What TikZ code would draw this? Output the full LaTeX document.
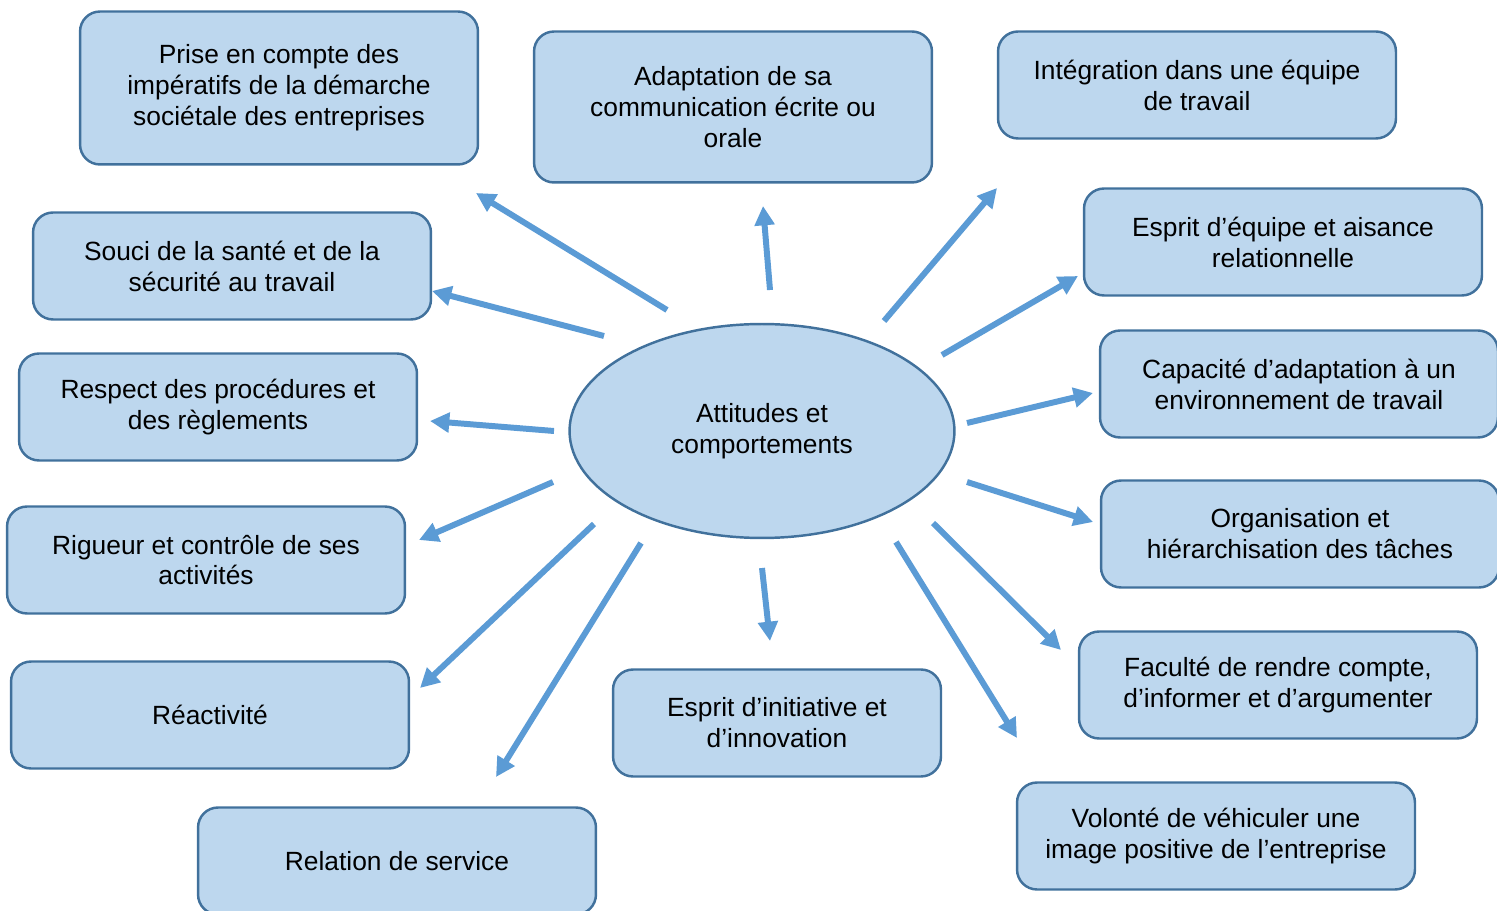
\documentclass[tikz,border=0pt]{standalone}
\usepackage{fontspec}
\setmainfont{Liberation Sans}
\usepackage{tikz}
\usetikzlibrary{shapes.geometric}
\usetikzlibrary{arrows.meta}

\definecolor{boxfill}{HTML}{BDD7EE}
\definecolor{boxline}{HTML}{41719C}
\definecolor{arrowblue}{HTML}{5B9BD5}

\begin{document}
\begin{tikzpicture}[x=0.02cm,y=-0.02cm]
    \useasboundingbox (0,0) rectangle (1497,911);
    % centre
    \node(centre)[ellipse,draw=boxline,line width=1.4pt,fill=boxfill,
        minimum width=7.7cm,minimum height=4.28cm,align=center,
        font=\fontsize{15}{17.6}\selectfont] at (762,431) {Attitudes et\\comportements};
    \begin{scope}[every node/.style={rectangle,rounded corners=0.4cm,draw=boxline,
        line width=1.4pt,fill=boxfill,minimum width=7.96cm,minimum height=2.14cm,
        align=center,font=\fontsize{15}{17.6}\selectfont}]
        \node(prise)[minimum height=3.06cm] at (279,88) {Prise en compte des\\impératifs de la démarche\\sociétale des entreprises};
        \node(adapt)[minimum height=3.02cm] at (733,107) {Adaptation de sa\\communication écrite ou\\orale};
        \node(integr) at (1197,85) {Intégration dans une équipe\\de travail};
        \node(equipe) at (1283,242) {Esprit d’équipe et aisance\\relationnelle};
        \node(capac) at (1299,384) {Capacité d’adaptation à un\\environnement de travail};
        \node(organ) at (1300,534) {Organisation et\\hiérarchisation des tâches};
        \node(faculte) at (1278,685) {Faculté de rendre compte,\\d’informer et d’argumenter};
        \node(volonte) at (1216,836) {Volonté de véhiculer une\\image positive de l’entreprise};
        \node(initiat)[minimum width=6.56cm] at (777,723) {Esprit d’initiative et\\d’innovation};
        \node(relation) at (397,861) {Relation de service};
        \node(reactiv) at (210,715) {Réactivité};
        \node(rigueur) at (206,560) {Rigueur et contrôle de ses\\activités};
        \node(respect) at (218,407) {Respect des procédures et\\des règlements};
        \node(souci) at (232,266) {Souci de la santé et de la\\sécurité au travail};
    \end{scope}
    %Arrows
    \coordinate(p1) at (667,310);  \coordinate(q1) at (476,193);
    \coordinate(p2) at (770,290);  \coordinate(q2) at (763,206);
    \coordinate(p3) at (884,321);  \coordinate(q3) at (997,188);
    \coordinate(p4) at (942,355);  \coordinate(q4) at (1078,276);
    \coordinate(p5) at (967,423);  \coordinate(q5) at (1093,393);
    \coordinate(p6) at (967,482);  \coordinate(q6) at (1093,522);
    \coordinate(p7) at (933,523);  \coordinate(q7) at (1061,650);
    \coordinate(p8) at (896,542);  \coordinate(q8) at (1017,738);
    \coordinate(p9) at (762,568);  \coordinate(q9) at (770,641);
    \coordinate(p10) at (641,543); \coordinate(q10) at (496,777);
    \coordinate(p11) at (594,524); \coordinate(q11) at (420,688);
    \coordinate(p12) at (553,482); \coordinate(q12) at (419,540);
    \coordinate(p13) at (554,431); \coordinate(q13) at (430,421);
    \coordinate(p14) at (604,336); \coordinate(q14) at (432,291);
    \begin{scope}[>={Triangle[length=11pt,width=11pt]}, arrowblue, line width=3.4pt]
        \draw[->] (p1) -- (q1);
        \draw[->] (p2) -- (q2);
        \draw[->] (p3) -- (q3);
        \draw[->] (p4) -- (q4);
        \draw[->] (p5) -- (q5);
        \draw[->] (p6) -- (q6);
        \draw[->] (p7) -- (q7);
        \draw[->] (p8) -- (q8);
        \draw[->] (p9) -- (q9);
        \draw[->] (p10) -- (q10);
        \draw[->] (p11) -- (q11);
        \draw[->] (p12) -- (q12);
        \draw[->] (p13) -- (q13);
        \draw[->] (p14) -- (q14);
    \end{scope}
\end{tikzpicture}
\end{document}
